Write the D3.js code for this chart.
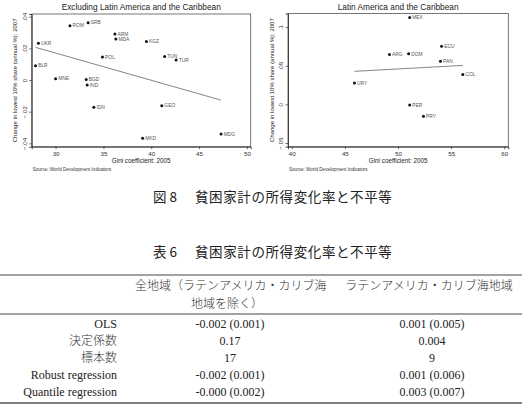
<!DOCTYPE html>
<html lang="ja">
<head>
<meta charset="UTF-8">
<title>貧困家計の所得変化率と不平等</title>
<style>
  body { margin: 0; background: #fff; }
  svg { display: block; }
  .panel text { font-family: "Liberation Sans", Arial, sans-serif; }
  .tbl text { font-family: "Liberation Serif", "Noto Sans CJK JP", serif; fill: #222; }
  .tbl text.ja { font-weight: 300; fill: #333; }
  .cap text { font-family: "Noto Sans CJK JP", sans-serif; fill: #222; }
</style>
</head>
<body>
<svg id="page" width="522" height="420"></svg>
<script src="https://d3js.org/d3.v7.min.js"></script>
<script>
// --- data: countries excluding Latin America and the Caribbean
const exCodes  = ["ROM", "SRB", "ARM", "MDA", "KGZ", "UKR", "POL", "TUN", "TUR", "BLR", "MNE", "BGD", "IND", "IDN", "GEO", "MKD", "MDG"];
const exGini   = [31.5, 33.4, 36.2, 36.3, 39.5, 28.2, 34.9, 41.4, 42.6, 27.9, 30.0, 33.2, 33.3, 34.0, 41.1, 39.1, 47.3];
const exChange = [0.0343, 0.0362, 0.0290, 0.0259, 0.0244, 0.0233, 0.0145, 0.0149, 0.0126, 0.0090, 0.0008, 0.0004, -0.0032, -0.0172, -0.0162, -0.0368, -0.0341];

// --- data: Latin America and the Caribbean
const laCodes  = ["MEX", "ECU", "ARG", "DOM", "PAN", "COL", "URY", "PER", "PRY"];
const laGini   = [51.1, 54.1, 49.2, 51.0, 54.0, 56.1, 45.9, 51.1, 52.4];
const laChange = [0.1124, 0.0753, 0.0646, 0.0654, 0.0559, 0.0388, 0.0275, -0.0009, -0.0155];

// --- ticks
const exXTicks = [30, 35, 40, 45, 50];
const exYTicks = [-0.04, -0.02, 0, 0.02, 0.04];
const exYLabels = ["\u2212.04", "\u2212.02", "0", ".02", ".04"];
const laXTicks = [40, 45, 50, 55, 60];
const laYTicks = [-0.05, 0, 0.05, 0.1];
const laYLabels = ["\u2212.05", "0", ".05", ".1"];

// --- table
const rowLabels = ["OLS", "決定係数", "標本数", "Robust regression", "Quantile regression"];
const col1Values = ["-0.002 (0.001)", "0.17", "17", "-0.002 (0.001)", "-0.000 (0.002)"];
const col2Values = ["0.001 (0.005)", "0.004", "9", "0.001 (0.006)", "0.003 (0.007)"];

const svg = d3.select("#page");
svg.append("rect").attr("width", 522).attr("height", 420).attr("fill", "#fff");

// simple least squares fit
function olsFit(xs, ys) {
  const mx = d3.mean(xs), my = d3.mean(ys);
  let sxy = 0, sxx = 0;
  xs.forEach((x, i) => { sxy += (x - mx) * (ys[i] - my); sxx += (x - mx) * (x - mx); });
  const b = sxy / sxx;
  return x => my + b * (x - mx);
}

function drawPanel(cfg) {
  const g = svg.append("g").attr("class", "panel");
  const x = d3.scaleLinear().domain(cfg.xDomain).range([cfg.left, cfg.right]);
  const y = d3.scaleLinear().domain(cfg.yDomain).range([cfg.bottom, cfg.top]);

  // frame
  g.append("rect")
    .attr("x", cfg.left).attr("y", cfg.top)
    .attr("width", cfg.right - cfg.left).attr("height", cfg.bottom - cfg.top)
    .attr("fill", "none").attr("stroke", "#555").attr("stroke-width", 0.8);

  // axes
  const xAxis = g.append("g")
    .attr("transform", `translate(0,${cfg.bottom})`)
    .call(d3.axisBottom(x).tickValues(cfg.xTicks).tickSize(2.5).tickPadding(2).tickFormat(d3.format("d")));
  xAxis.select(".domain").attr("stroke", "#333").attr("stroke-width", 0.9);
  xAxis.selectAll(".tick line").attr("stroke", "#333").attr("stroke-width", 0.7);
  xAxis.selectAll("text").attr("font-size", 6.2).attr("fill", "#333");

  const yAxis = g.append("g")
    .attr("transform", `translate(${cfg.left},0)`)
    .call(d3.axisLeft(y).tickValues(cfg.yTicks).tickSize(2.5).tickFormat((d, i) => cfg.yLabels[i]));
  yAxis.select(".domain").attr("stroke", "#333").attr("stroke-width", 0.9);
  yAxis.selectAll(".tick line").attr("stroke", "#333").attr("stroke-width", 0.7);
  yAxis.selectAll("text")
    .attr("font-size", 6.2).attr("fill", "#333")
    .attr("x", null).attr("dy", null)
    .attr("text-anchor", "middle")
    .attr("transform", "translate(-5,0) rotate(-90)");

  // titles
  const cx = (cfg.left + cfg.right) / 2;
  g.append("text").attr("x", cx).attr("y", 9.5)
    .attr("text-anchor", "middle").attr("font-size", 8.3).attr("fill", "#222")
    .text(cfg.title);
  g.append("text").attr("x", cx).attr("y", 163)
    .attr("text-anchor", "middle").attr("font-size", 6.3).attr("fill", "#222")
    .text("Gini coefficient: 2005");
  g.append("text")
    .attr("transform", `translate(${cfg.left - 14.5},${(cfg.top + cfg.bottom) / 2}) rotate(-90)`)
    .attr("text-anchor", "middle").attr("font-size", 6).attr("fill", "#222")
    .text("Change in lowest 10% share (annual %): 2007");
  g.append("text").attr("x", cfg.left + 1).attr("y", 170.5)
    .attr("font-size", 4.6).attr("fill", "#333")
    .text("Source: World Development Indicators");

  // fitted line
  const fit = olsFit(cfg.gini, cfg.change);
  const ext = d3.extent(cfg.gini);
  g.append("line")
    .attr("x1", x(ext[0])).attr("y1", y(fit(ext[0])))
    .attr("x2", x(ext[1])).attr("y2", y(fit(ext[1])))
    .attr("stroke", "#666").attr("stroke-width", 0.8);

  // points and labels
  const pts = cfg.codes.map((c, i) => ({ code: c, gx: cfg.gini[i], cy: cfg.change[i] }));
  g.selectAll("circle.pt").data(pts).enter().append("circle")
    .attr("class", "pt")
    .attr("cx", d => x(d.gx)).attr("cy", d => y(d.cy))
    .attr("r", 1.5).attr("fill", "#111");
  g.selectAll("text.lbl").data(pts).enter().append("text")
    .attr("class", "lbl")
    .attr("x", d => x(d.gx) + 2.6).attr("y", d => y(d.cy))
    .attr("dy", "0.35em").attr("font-size", 4.9).attr("fill", "#555")
    .text(d => d.code);
}

drawPanel({
  title: "Excluding Latin America and the Caribbean",
  codes: exCodes, gini: exGini, change: exChange,
  xDomain: [27.5, 50.4], yDomain: [-0.0421, 0.0417],
  xTicks: exXTicks, yTicks: exYTicks, yLabels: exYLabels,
  left: 31.7, right: 250.7, top: 14, bottom: 146.7
});

drawPanel({
  title: "Latin America and the Caribbean",
  codes: laCodes, gini: laGini, change: laChange,
  xDomain: [39.65, 60.38], yDomain: [-0.0548, 0.1176],
  xTicks: laXTicks, yTicks: laYTicks, yLabels: laYLabels,
  left: 288, right: 508.3, top: 13.5, bottom: 146.7
});

// captions
const cap = svg.append("g").attr("class", "cap");
cap.append("text").attr("x", 153).attr("y", 202).attr("font-size", 13.5).text("図 8");
cap.append("text").attr("x", 195).attr("y", 202).attr("font-size", 13.5).attr("letter-spacing", 0.6)
  .text("貧困家計の所得変化率と不平等");
cap.append("text").attr("x", 153).attr("y", 257).attr("font-size", 13.5).text("表 6");
cap.append("text").attr("x", 195).attr("y", 257).attr("font-size", 13.5).attr("letter-spacing", 0.6)
  .text("貧困家計の所得変化率と不平等");

// table
const tbl = svg.append("g").attr("class", "tbl");
tbl.append("line").attr("x1", 0).attr("x2", 522).attr("y1", 275).attr("y2", 275).attr("stroke", "#444").attr("stroke-width", 1);
tbl.append("line").attr("x1", 0).attr("x2", 522).attr("y1", 314).attr("y2", 314).attr("stroke", "#444").attr("stroke-width", 1);
tbl.append("line").attr("x1", 0).attr("x2", 522).attr("y1", 403).attr("y2", 403).attr("stroke", "#555").attr("stroke-width", 1.6);

tbl.append("text").attr("class", "ja").attr("x", 135).attr("y", 289.5).attr("font-size", 12).text("全地域（ラテンアメリカ・カリブ海");
tbl.append("text").attr("class", "ja").attr("x", 227).attr("y", 308).attr("font-size", 12).attr("text-anchor", "middle").text("地域を除く）");
tbl.append("text").attr("class", "ja").attr("x", 429).attr("y", 289.5).attr("font-size", 12).attr("text-anchor", "middle").text("ラテンアメリカ・カリブ海地域");

const rowY = d3.scalePoint().domain(d3.range(rowLabels.length)).range([328, 396]);
rowLabels.forEach((lab, i) => {
  tbl.append("text").attr("class", /[^\x00-\x7f]/.test(lab) ? "ja" : null)
    .attr("x", 117).attr("y", rowY(i)).attr("font-size", 12).attr("text-anchor", "end").text(lab);
  tbl.append("text").attr("x", 230).attr("y", rowY(i)).attr("font-size", 12).attr("text-anchor", "middle").text(col1Values[i]);
  tbl.append("text").attr("x", 432).attr("y", rowY(i)).attr("font-size", 12).attr("text-anchor", "middle").text(col2Values[i]);
});
</script>
</body>
</html>
